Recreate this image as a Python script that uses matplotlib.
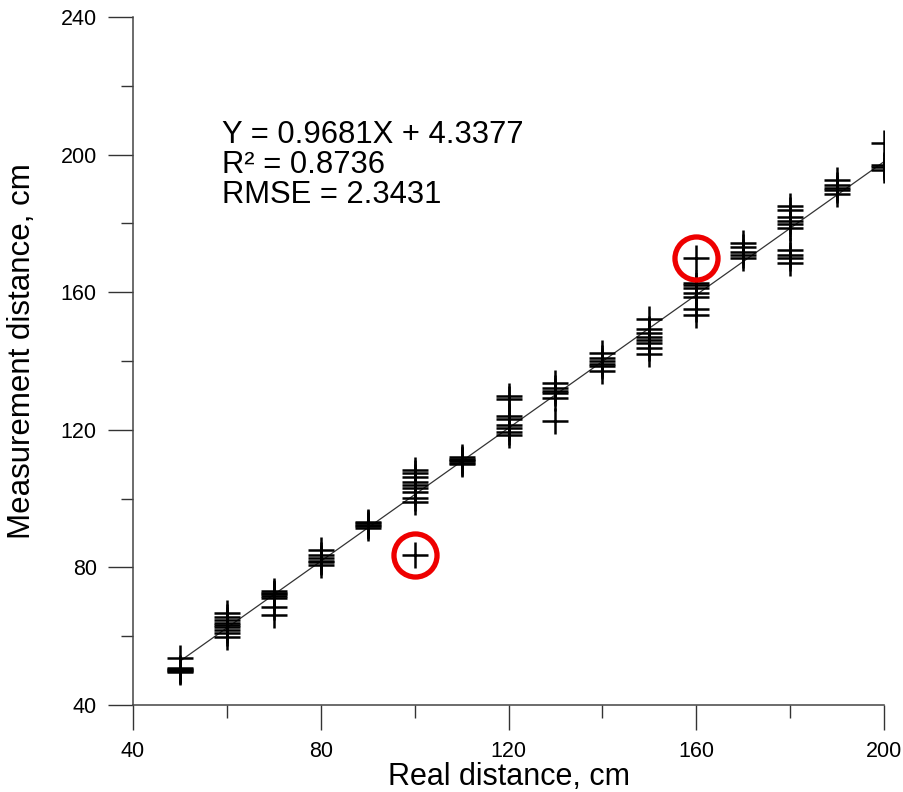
import matplotlib
matplotlib.use("Agg")
import matplotlib.pyplot as plt

plt.rcParams["font.family"] = ["Liberation Sans", "DejaVu Sans"]

# real distances (cm) and the repeated measurements read at each one
real_cm = [50, 60, 70, 80, 90, 100, 110, 120, 130, 140, 150, 160, 170, 180, 190, 200]
measured_cm = [
    [53.6, 50.9, 50.5, 50.2, 49.8, 49.6],
    [66.9, 65.7, 64.7, 63.9, 63.3, 62.6, 61.8, 60.8, 59.9],
    [73.1, 72.6, 72.2, 71.8, 71.0, 68.6, 66.3],
    [85.0, 83.6, 82.7, 82.0, 81.5, 80.8],
    [93.3, 92.8, 92.4, 92.0, 91.6],
    [108.3, 107.4, 106.4, 104.9, 104.0, 103.1, 102.0, 100.1, 99.1],
    [112.2, 111.6, 111.2, 110.8, 110.4, 110.0],
    [129.8, 128.9, 124.0, 123.1, 121.4, 120.4, 119.4, 118.5],
    [133.7, 132.1, 131.4, 130.8, 129.2, 122.6],
    [142.4, 140.8, 140.0, 139.1, 138.5, 137.2],
    [152.1, 149.2, 148.1, 147.1, 146.1, 145.1, 143.7, 142.0],
    [162.8, 162.1, 161.1, 159.9, 158.7, 155.0, 153.4],
    [174.4, 173.2, 171.8, 170.8, 169.9],
    [185.1, 183.9, 182.0, 180.8, 179.8, 178.6, 172.3, 170.8, 169.9, 168.6],
    [192.6, 191.2, 190.4, 189.7, 188.7],
    [203.5, 197.0, 196.3, 195.6],
]

# two highlighted outliers
outlier_x = [100, 160]
outlier_y = [83.5, 169.9]

# fitted line
slope = 0.9681
intercept = 4.3377
fit_x = [50, 200]

fig = plt.figure(figsize=(9.04, 7.92), dpi=100)
ax = fig.add_axes([0.1471, 0.1098, 0.8308, 0.8687])

xs, ys = [], []
for x, vals in zip(real_cm, measured_cm):
    xs += [x] * len(vals)
    ys += vals
xs += outlier_x
ys += outlier_y

ax.plot(fit_x, [slope * x + intercept for x in fit_x], color="#333333", lw=0.9, zorder=1)
ax.plot(xs, ys, ls="none", marker="+", ms=19, mew=1.8, color="black", zorder=2)
ax.plot(outlier_x, outlier_y, ls="none", marker="o", ms=31, mfc="none",
        mec="#ee0000", mew=3.8, zorder=3)

ax.text(59.0, 210.0, "Y = 0.9681X + 4.3377\nR² = 0.8736\nRMSE = 2.3431",
        fontsize=22.3, va="top", ha="left", linespacing=1.0, color="black")

ax.set_xlim(40, 200)
ax.set_ylim(40, 240)
ax.set_xticks([40, 80, 120, 160, 200])
ax.set_xticks([60, 100, 140, 180], minor=True)
ax.set_yticks([40, 80, 120, 160, 200, 240])
ax.set_yticks([60, 100, 140, 180, 220], minor=True)

for side in ("top", "right"):
    ax.spines[side].set_visible(False)
for side in ("left", "bottom"):
    ax.spines[side].set_color("#444444")
    ax.spines[side].set_linewidth(1.1)

ax.tick_params(which="major", direction="out", length=18, width=1.0, color="#333333",
               labelsize=15.5, pad=8)
ax.tick_params(which="minor", direction="out", length=9, width=1.0, color="#333333")

ax.set_xlabel("Real distance, cm", fontsize=22, labelpad=0)
ax.set_ylabel("Measurement distance, cm", fontsize=22.5)
ax.yaxis.set_label_coords(-0.128, 0.515)

fig.savefig("out.png", dpi=100, facecolor="white")
